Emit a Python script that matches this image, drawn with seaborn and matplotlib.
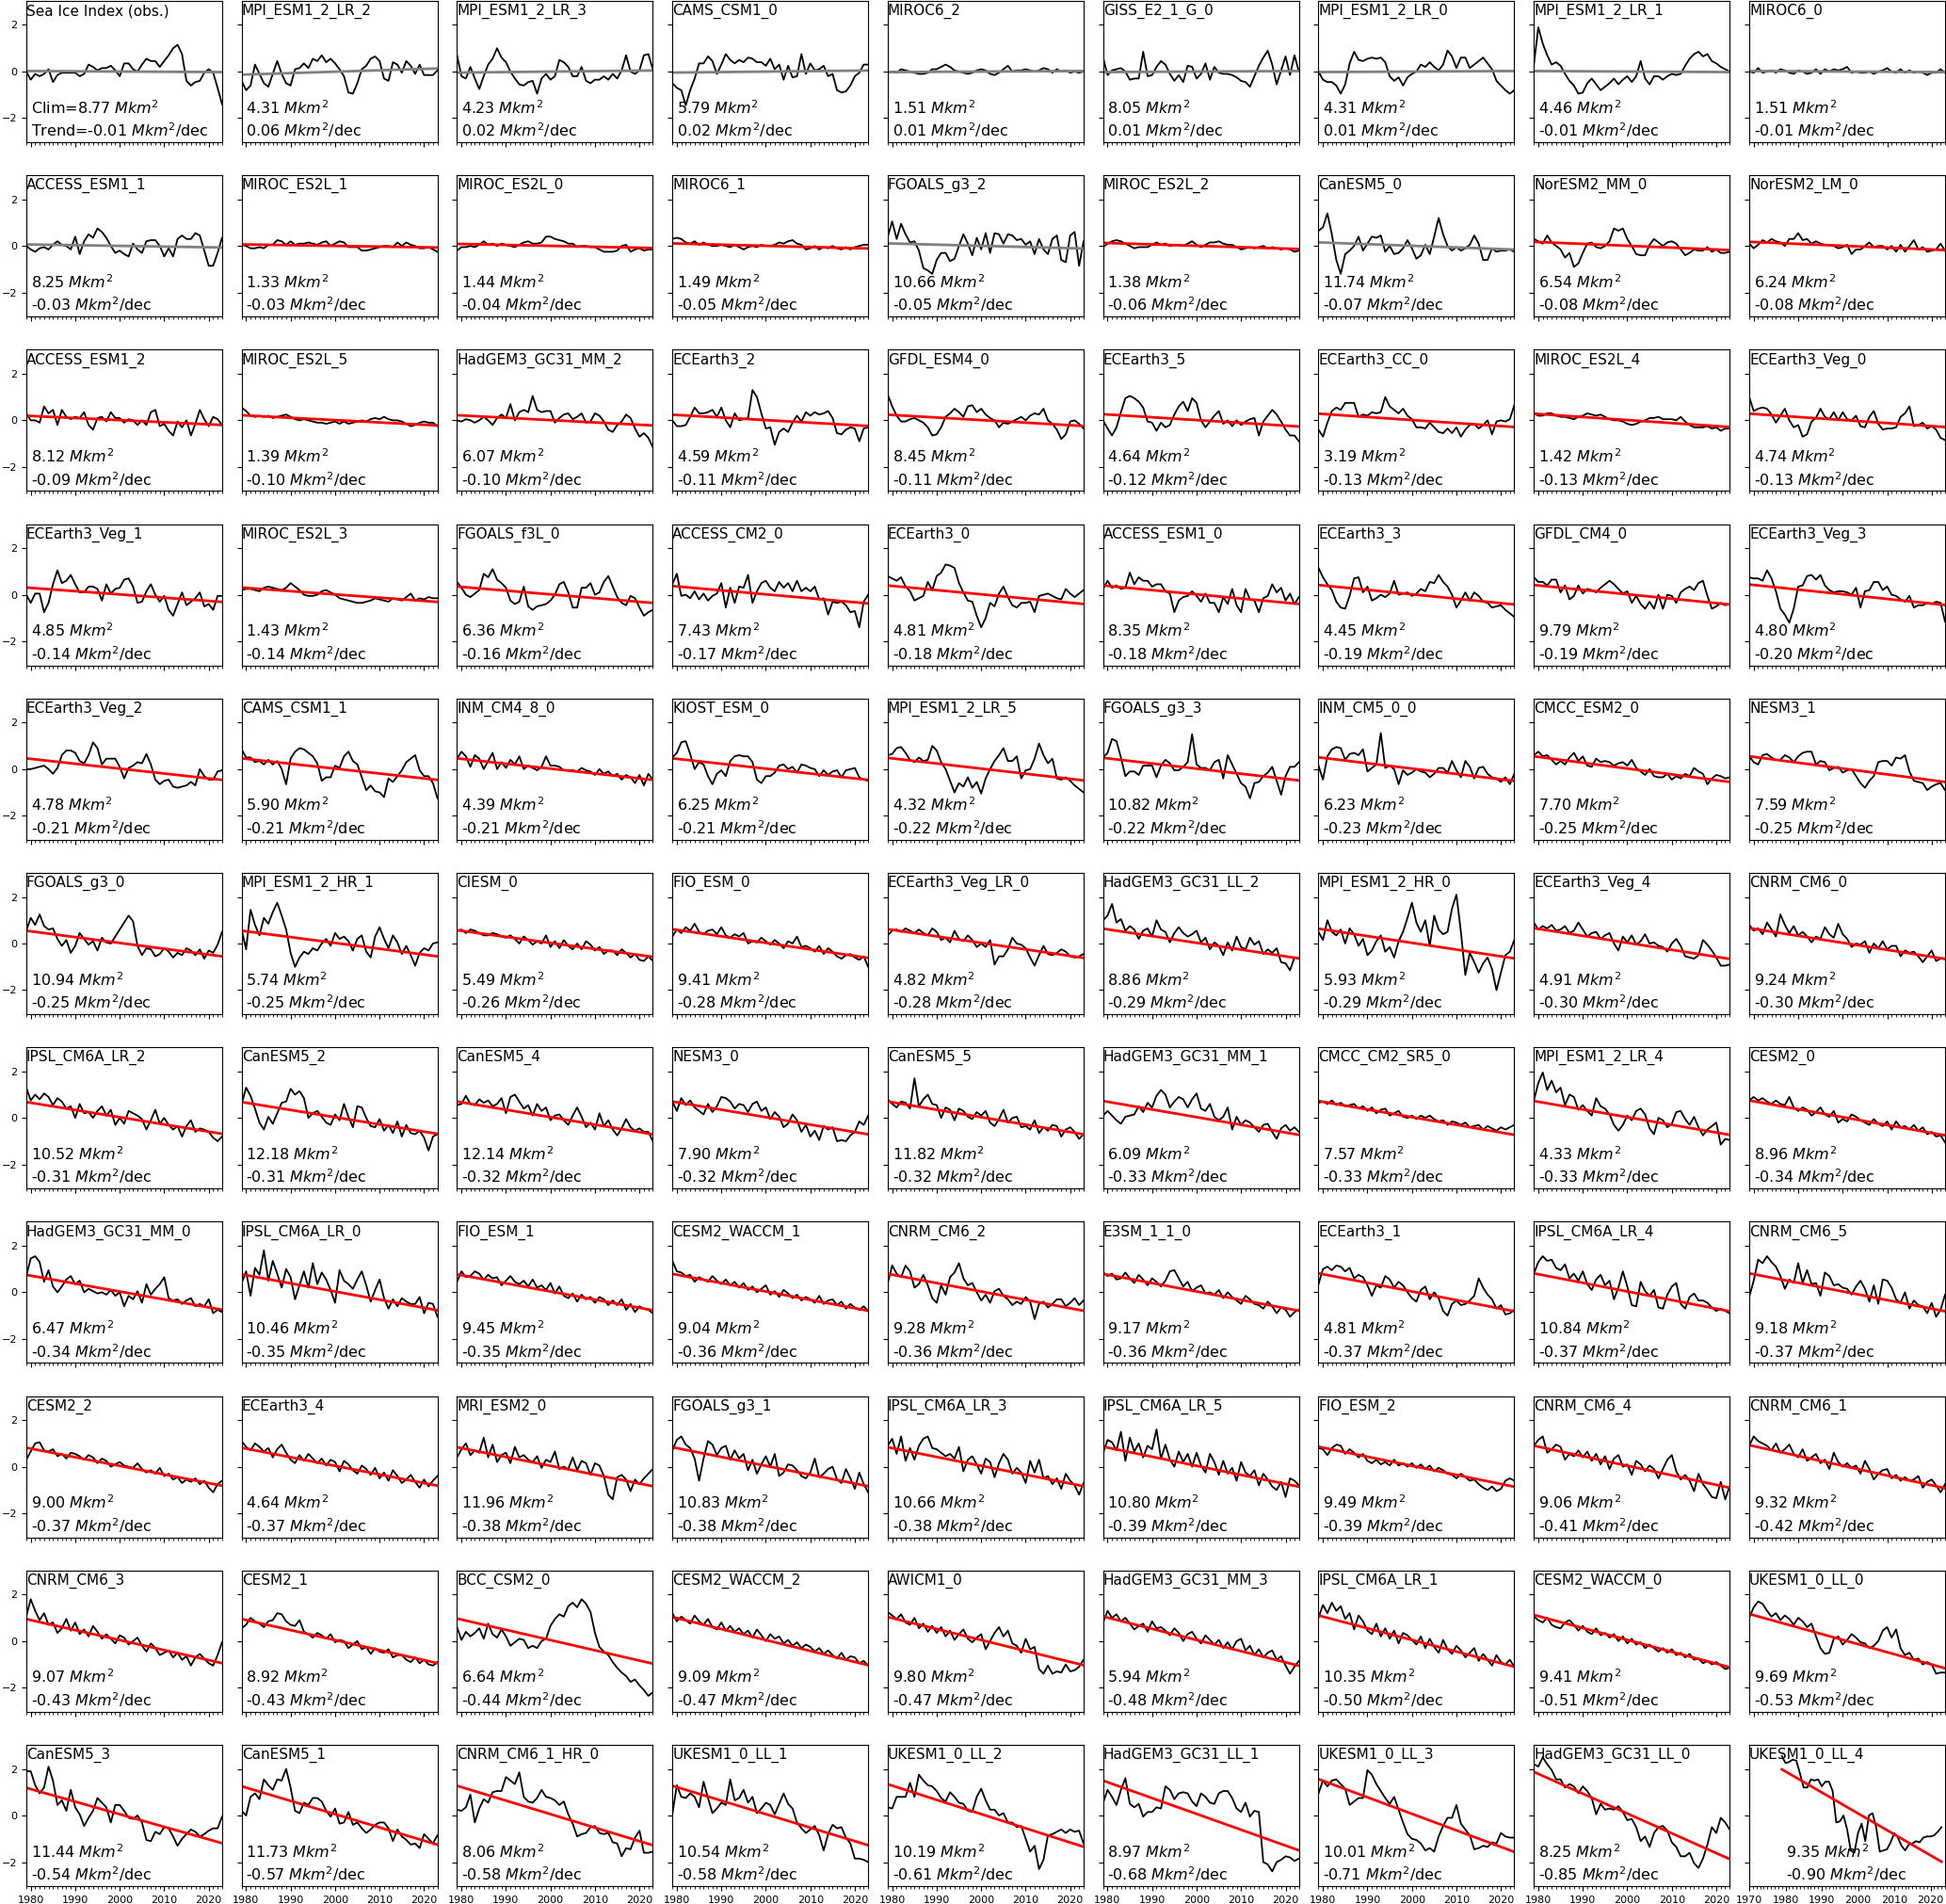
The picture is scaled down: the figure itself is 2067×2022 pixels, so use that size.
import numpy as np
import matplotlib
matplotlib.use("Agg")
import matplotlib.pyplot as plt
import seaborn as sns
from matplotlib.ticker import MultipleLocator

years = list(range(1979, 2024))

models = [
    "Sea Ice Index (obs.)", "MPI_ESM1_2_LR_2", "MPI_ESM1_2_LR_3", "CAMS_CSM1_0", "MIROC6_2", "GISS_E2_1_G_0", "MPI_ESM1_2_LR_0", "MPI_ESM1_2_LR_1", "MIROC6_0",
    "ACCESS_ESM1_1", "MIROC_ES2L_1", "MIROC_ES2L_0", "MIROC6_1", "FGOALS_g3_2", "MIROC_ES2L_2", "CanESM5_0", "NorESM2_MM_0", "NorESM2_LM_0",
    "ACCESS_ESM1_2", "MIROC_ES2L_5", "HadGEM3_GC31_MM_2", "ECEarth3_2", "GFDL_ESM4_0", "ECEarth3_5", "ECEarth3_CC_0", "MIROC_ES2L_4", "ECEarth3_Veg_0",
    "ECEarth3_Veg_1", "MIROC_ES2L_3", "FGOALS_f3L_0", "ACCESS_CM2_0", "ECEarth3_0", "ACCESS_ESM1_0", "ECEarth3_3", "GFDL_CM4_0", "ECEarth3_Veg_3",
    "ECEarth3_Veg_2", "CAMS_CSM1_1", "INM_CM4_8_0", "KIOST_ESM_0", "MPI_ESM1_2_LR_5", "FGOALS_g3_3", "INM_CM5_0_0", "CMCC_ESM2_0", "NESM3_1",
    "FGOALS_g3_0", "MPI_ESM1_2_HR_1", "CIESM_0", "FIO_ESM_0", "ECEarth3_Veg_LR_0", "HadGEM3_GC31_LL_2", "MPI_ESM1_2_HR_0", "ECEarth3_Veg_4", "CNRM_CM6_0",
    "IPSL_CM6A_LR_2", "CanESM5_2", "CanESM5_4", "NESM3_0", "CanESM5_5", "HadGEM3_GC31_MM_1", "CMCC_CM2_SR5_0", "MPI_ESM1_2_LR_4", "CESM2_0",
    "HadGEM3_GC31_MM_0", "IPSL_CM6A_LR_0", "FIO_ESM_1", "CESM2_WACCM_1", "CNRM_CM6_2", "E3SM_1_1_0", "ECEarth3_1", "IPSL_CM6A_LR_4", "CNRM_CM6_5",
    "CESM2_2", "ECEarth3_4", "MRI_ESM2_0", "FGOALS_g3_1", "IPSL_CM6A_LR_3", "IPSL_CM6A_LR_5", "FIO_ESM_2", "CNRM_CM6_4", "CNRM_CM6_1",
    "CNRM_CM6_3", "CESM2_1", "BCC_CSM2_0", "CESM2_WACCM_2", "AWICM1_0", "HadGEM3_GC31_MM_3", "IPSL_CM6A_LR_1", "CESM2_WACCM_0", "UKESM1_0_LL_0",
    "CanESM5_3", "CanESM5_1", "CNRM_CM6_1_HR_0", "UKESM1_0_LL_1", "UKESM1_0_LL_2", "HadGEM3_GC31_LL_1", "UKESM1_0_LL_3", "HadGEM3_GC31_LL_0", "UKESM1_0_LL_4",
]

clim = [
    8.77, 4.31, 4.23, 5.79, 1.51, 8.05, 4.31, 4.46, 1.51,
    8.25, 1.33, 1.44, 1.49, 10.66, 1.38, 11.74, 6.54, 6.24,
    8.12, 1.39, 6.07, 4.59, 8.45, 4.64, 3.19, 1.42, 4.74,
    4.85, 1.43, 6.36, 7.43, 4.81, 8.35, 4.45, 9.79, 4.80,
    4.78, 5.90, 4.39, 6.25, 4.32, 10.82, 6.23, 7.70, 7.59,
    10.94, 5.74, 5.49, 9.41, 4.82, 8.86, 5.93, 4.91, 9.24,
    10.52, 12.18, 12.14, 7.90, 11.82, 6.09, 7.57, 4.33, 8.96,
    6.47, 10.46, 9.45, 9.04, 9.28, 9.17, 4.81, 10.84, 9.18,
    9.00, 4.64, 11.96, 10.83, 10.66, 10.80, 9.49, 9.06, 9.32,
    9.07, 8.92, 6.64, 9.09, 9.80, 5.94, 10.35, 9.41, 9.69,
    11.44, 11.73, 8.06, 10.54, 10.19, 8.97, 10.01, 8.25, 9.35,
]

trend = [
    -0.01, 0.06, 0.02, 0.02, 0.01, 0.01, 0.01, -0.01, -0.01,
    -0.03, -0.03, -0.04, -0.05, -0.05, -0.06, -0.07, -0.08, -0.08,
    -0.09, -0.10, -0.10, -0.11, -0.11, -0.12, -0.13, -0.13, -0.13,
    -0.14, -0.14, -0.16, -0.17, -0.18, -0.18, -0.19, -0.19, -0.20,
    -0.21, -0.21, -0.21, -0.21, -0.22, -0.22, -0.23, -0.25, -0.25,
    -0.25, -0.25, -0.26, -0.28, -0.28, -0.29, -0.29, -0.30, -0.30,
    -0.31, -0.31, -0.32, -0.32, -0.32, -0.33, -0.33, -0.33, -0.34,
    -0.34, -0.35, -0.35, -0.36, -0.36, -0.36, -0.37, -0.37, -0.37,
    -0.37, -0.37, -0.38, -0.38, -0.38, -0.39, -0.39, -0.41, -0.42,
    -0.43, -0.43, -0.44, -0.47, -0.47, -0.48, -0.50, -0.51, -0.53,
    -0.54, -0.57, -0.58, -0.58, -0.61, -0.68, -0.71, -0.85, -0.90,
]

significant = [False] * 9 + [False, True, True, True, False, True, False, True, True] + [True] * 81

anom_row01 = [
    [0.0,-0.35,-0.1,-0.2,-0.1,0.1,-0.45,-0.15,-0.05,-0.05,-0.05,-0.05,-0.2,-0.1,0.3,0.2,0.05,0.15,0.15,0.25,0.05,-0.2,0.35,0.35,0.1,0.0,0.3,0.55,0.45,0.45,0.2,0.45,0.7,1.0,1.15,0.75,-0.4,-0.6,-0.45,-0.4,-0.05,0.1,-0.05,-0.7,-1.4],
    [-0.4,-0.8,-0.6,0.3,-0.1,-0.5,-0.65,-0.1,0.45,-0.1,-0.5,-0.6,0.1,0.15,0.35,0.15,0.55,0.45,0.7,0.4,0.55,0.35,0.1,-0.2,-0.9,-0.95,-0.5,0.1,0.25,0.55,0.65,0.45,-0.3,-0.4,0.4,0.3,-0.05,0.45,0.25,-0.1,0.3,-0.15,-0.15,-0.15,0.05],
    [0.7,-0.2,-0.3,0.2,-0.3,-0.75,-0.2,0.3,0.55,1.0,0.6,0.4,0.0,-0.3,-0.55,-0.6,-0.45,-0.4,-0.95,-0.3,-0.1,-0.35,-0.2,0.5,0.4,0.2,-0.2,-0.2,0.2,-0.4,-0.5,-0.35,-0.35,-0.2,-0.35,-0.1,-0.3,0.05,0.7,0.0,-0.1,0.05,0.7,0.75,0.1],
    [-0.5,-0.7,-0.8,-1.45,-0.8,-0.3,0.35,0.35,0.65,0.45,-0.1,0.3,0.75,0.5,0.35,0.5,0.4,0.6,0.55,0.4,0.4,0.25,0.55,0.1,0.3,-0.35,0.25,-0.25,-0.2,0.75,-0.1,0.35,0.05,0.1,0.25,-0.2,-0.1,-0.8,-0.9,-0.85,-0.6,-0.2,-0.05,0.3,0.3],
    [-0.05,0.0,-0.05,0.1,0.05,0.0,-0.05,-0.1,-0.1,-0.05,0.1,0.1,0.2,0.3,0.2,0.05,0.0,-0.05,-0.1,-0.05,0.05,0.1,0.05,-0.1,-0.15,-0.05,0.1,0.25,0.0,0.05,0.05,0.1,0.05,0.0,0.05,0.15,0.1,-0.05,0.1,0.0,0.05,-0.05,0.0,-0.05,0.0],
    [0.6,-0.15,0.05,0.1,0.15,0.0,-0.35,-0.3,-0.3,0.85,-0.2,-0.15,0.2,0.45,0.3,-0.1,-0.4,-0.15,-0.45,0.25,0.2,-0.3,-0.1,0.35,-0.35,0.2,-0.05,-0.1,-0.1,-0.15,-0.25,-0.4,-0.45,-0.65,-0.2,0.25,0.6,0.9,0.3,-0.55,0.05,0.65,-0.15,0.7,0.0],
    [0.0,-0.35,-0.45,-0.45,-0.6,-0.95,-0.55,0.35,0.85,0.5,0.45,0.55,0.6,0.55,0.6,0.4,-0.2,-0.4,-0.25,-0.6,-0.25,-0.1,0.0,0.3,0.2,0.4,0.2,0.05,0.3,0.9,0.65,0.15,0.6,0.6,0.15,0.3,0.45,0.6,0.35,0.1,-0.4,-0.6,-0.8,-0.95,-0.8],
    [0.3,1.9,1.2,0.7,0.3,0.4,0.25,-0.1,-0.4,-0.6,-0.95,-0.9,-0.5,-0.3,-0.55,-0.8,-0.65,-0.5,-0.3,-0.55,-0.35,-0.2,-0.45,-0.2,0.45,-0.3,-0.55,-0.2,-0.2,-0.35,-0.2,-0.1,-0.15,-0.1,0.25,0.55,0.75,0.85,0.65,0.75,0.45,0.35,0.2,0.1,0.0],
    [0.0,-0.05,0.15,-0.05,0.0,0.05,-0.05,0.1,0.05,-0.05,-0.1,0.05,0.0,-0.1,-0.05,0.1,-0.1,0.1,0.0,0.1,0.05,0.1,0.2,-0.05,0.0,-0.05,-0.05,0.0,-0.1,0.0,0.05,0.15,0.0,-0.05,0.1,-0.05,0.05,-0.05,0.0,-0.05,-0.15,-0.05,-0.05,0.1,-0.05],
]

anom_row02 = [
    [0.0,-0.15,-0.25,-0.1,-0.05,-0.15,0.05,0.2,0.05,0.0,-0.15,0.4,-0.35,0.2,0.5,0.35,0.75,0.6,0.35,0.0,-0.3,-0.2,-0.35,-0.45,0.1,-0.15,-0.3,0.2,0.25,0.25,0.0,-0.45,-0.1,-0.45,0.3,0.45,0.3,0.3,0.55,0.45,-0.2,-0.85,-0.85,-0.3,0.35],
    [0.05,0.0,-0.1,-0.1,-0.05,-0.1,0.05,0.05,0.25,0.2,0.05,0.2,0.05,0.1,0.1,0.15,0.1,0.05,0.15,0.2,0.0,0.1,0.2,0.15,-0.05,-0.05,-0.05,-0.2,-0.2,-0.15,-0.1,-0.05,0.0,0.0,-0.05,0.15,0.0,0.15,0.05,0.0,-0.1,-0.1,-0.05,-0.15,-0.25],
    [-0.2,-0.05,-0.05,0.0,-0.05,0.05,0.2,0.05,0.1,0.0,0.1,0.05,0.0,-0.05,0.05,0.15,0.2,0.1,0.1,0.15,0.4,0.4,0.3,0.25,0.2,0.1,0.1,-0.05,0.0,0.0,-0.05,-0.05,-0.15,-0.25,-0.25,-0.25,-0.2,0.0,0.05,-0.25,-0.15,-0.1,-0.2,-0.15,-0.15],
    [0.3,0.35,0.3,0.15,0.1,0.2,0.05,0.15,0.05,0.0,0.0,0.05,0.0,-0.05,0.05,-0.05,-0.15,-0.05,0.0,-0.05,0.05,0.0,0.0,0.05,0.15,0.1,0.2,0.25,0.1,0.05,-0.15,-0.1,0.0,-0.15,-0.05,-0.1,0.0,-0.1,-0.15,-0.05,-0.15,-0.05,0.0,0.05,0.05],
    [0.4,1.05,0.3,0.95,0.5,0.15,0.2,-0.2,-0.95,-1.05,-1.2,-0.6,-0.3,-0.3,-0.65,-0.55,0.0,0.5,0.1,-0.4,0.35,-0.15,0.55,-0.3,0.55,0.5,0.1,0.5,0.45,0.25,0.3,0.05,0.2,-0.35,0.3,-0.15,-0.35,0.3,0.45,-0.6,-0.7,0.45,0.6,-0.85,0.2],
    [-0.05,0.1,0.2,0.25,0.2,0.1,0.0,-0.1,-0.05,-0.05,-0.05,0.05,0.15,0.05,0.1,0.0,0.05,0.05,0.0,0.1,0.2,0.05,-0.05,0.05,0.15,0.15,0.2,0.1,0.05,0.05,-0.05,-0.15,-0.1,-0.05,-0.1,-0.05,0.0,-0.1,-0.05,-0.1,-0.15,-0.1,-0.15,-0.25,-0.2],
    [0.65,0.8,1.4,0.5,-0.6,-1.2,-0.35,-0.2,0.0,0.4,-0.2,0.1,0.4,0.35,0.45,-0.25,0.0,-0.35,-0.3,-0.1,0.25,-0.1,-0.55,-0.4,0.05,-0.35,0.4,1.2,0.5,0.0,-0.2,-0.05,-0.2,-0.1,0.05,0.45,0.1,-0.6,-0.6,-0.1,-0.25,-0.2,-0.2,-0.15,-0.25],
    [0.3,0.2,0.1,0.45,0.15,0.0,-0.15,-0.5,-0.3,-0.9,-0.75,-0.3,0.1,0.15,-0.05,-0.1,0.0,0.2,0.75,0.65,0.75,0.3,0.0,-0.35,-0.4,-0.4,0.05,0.3,0.15,0.0,0.15,0.2,0.1,-0.15,-0.4,-0.3,-0.15,-0.2,-0.2,-0.05,-0.25,-0.15,-0.3,-0.3,-0.25],
    [0.1,-0.1,0.05,0.25,0.15,0.3,0.2,0.15,0.0,0.3,0.3,0.55,0.25,0.3,0.1,0.2,0.1,0.05,0.05,0.0,-0.1,-0.05,0.05,-0.35,-0.15,-0.15,0.0,0.15,-0.05,0.0,0.0,-0.15,0.0,-0.25,0.05,-0.25,0.0,0.25,-0.15,-0.05,-0.25,-0.2,-0.15,0.1,-0.2],
]

anom_row03 = [
    [0.3,0.0,0.0,-0.1,0.6,0.3,0.45,-0.2,0.45,0.15,0.05,0.15,0.1,0.35,-0.2,-0.4,0.1,0.15,-0.05,0.35,0.1,0.1,-0.1,0.05,0.0,-0.2,0.0,-0.2,0.35,0.45,-0.25,-0.15,-0.45,-0.65,-0.05,-0.3,0.0,-0.65,-0.15,0.45,0.05,-0.25,0.15,0.05,-0.2],
    [0.55,0.4,0.2,0.15,0.2,0.15,0.2,0.1,0.15,0.2,0.25,0.15,0.05,0.0,0.05,0.0,-0.05,-0.1,-0.1,-0.15,-0.1,-0.05,-0.15,-0.05,-0.15,-0.1,-0.05,0.0,-0.05,0.05,0.1,0.05,0.15,0.05,0.0,0.0,-0.05,-0.15,-0.25,-0.2,-0.1,-0.05,-0.1,-0.1,-0.25],
    [0.0,-0.05,0.05,0.0,-0.1,0.0,0.15,0.0,-0.2,0.1,0.25,0.1,0.7,0.0,0.35,0.45,0.35,1.05,0.45,0.35,0.4,0.4,-0.1,0.1,0.25,0.3,0.05,0.15,0.3,-0.1,-0.05,0.3,0.2,-0.05,-0.4,-0.5,-0.2,-0.05,0.25,0.1,-0.35,-0.7,-0.55,-0.75,-1.15],
    [0.0,-0.25,-0.25,-0.2,0.15,0.55,0.3,0.3,0.35,0.45,0.15,0.55,0.0,-0.3,0.3,0.0,0.05,0.1,1.3,1.0,0.3,-0.35,-0.3,-1.05,-0.5,-0.35,-0.5,-0.1,0.2,-0.05,0.35,0.2,0.35,0.25,0.3,0.4,0.1,-0.55,-0.6,-0.4,-0.3,-0.35,-0.9,-0.35,-0.3],
    [1.1,0.6,0.2,-0.05,-0.05,0.05,0.1,0.0,-0.1,-0.3,-0.65,-0.6,-0.3,0.15,0.3,0.5,0.35,0.15,0.6,0.65,0.35,0.5,0.25,0.1,0.0,-0.3,-0.1,-0.15,-0.05,0.05,0.15,0.0,0.2,0.3,0.25,0.5,0.0,-0.15,-0.4,-0.8,-0.6,-0.05,0.0,-0.15,-0.35],
    [0.0,-0.35,-0.65,-0.3,0.35,0.95,1.05,0.95,0.8,0.55,-0.05,-0.1,-0.45,-0.1,-0.3,-0.2,0.25,0.6,0.8,0.4,0.95,0.75,0.0,-0.3,-0.05,0.2,0.4,-0.15,0.0,-0.25,0.0,-0.2,-0.05,0.05,0.1,-0.65,-0.05,0.2,0.45,0.25,-0.05,-0.4,-0.65,-0.65,-0.9],
    [-0.4,-0.7,-0.1,0.4,0.55,0.45,0.75,0.75,0.75,0.15,0.25,0.2,0.35,0.3,0.35,1.0,0.6,0.45,0.3,0.5,0.2,0.05,-0.3,-0.3,-0.35,-0.1,-0.3,-0.5,-0.55,-0.35,-0.55,-0.3,-0.7,-0.4,-0.2,-0.15,-0.35,-0.2,0.0,-0.6,-0.05,0.0,-0.05,0.05,0.65],
    [0.3,0.2,0.2,0.3,0.3,0.2,0.15,0.15,0.1,0.05,0.15,0.2,0.3,0.25,0.2,0.25,0.15,0.05,0.0,0.0,-0.05,-0.15,-0.2,-0.15,-0.05,0.0,0.1,0.1,0.15,0.05,0.05,0.05,0.0,0.15,-0.05,-0.2,-0.3,-0.3,-0.3,-0.25,-0.35,-0.3,-0.45,-0.35,-0.35],
    [1.0,0.4,0.5,0.55,0.5,0.25,-0.1,0.2,0.5,0.0,-0.3,-0.2,-0.7,-0.6,-0.05,0.1,0.5,0.15,0.05,0.35,0.0,0.35,0.05,0.0,0.2,-0.25,-0.3,0.15,0.4,-0.15,-0.4,-0.35,-0.35,-0.3,0.15,0.3,0.6,-0.25,-0.2,-0.1,-0.35,-0.25,-0.4,-0.75,-0.85],
]

anom_row04 = [
    [0.0,-0.35,0.05,0.05,-0.75,-0.35,0.45,1.05,0.5,0.6,0.85,0.45,0.1,0.1,0.35,0.35,0.25,-0.25,0.45,0.05,0.25,0.3,0.65,0.7,0.35,-0.35,-0.3,0.15,0.45,0.0,-0.3,-0.05,-0.65,-0.9,-0.4,0.1,-0.45,-0.3,-0.15,0.1,-0.5,-0.4,-0.65,-0.05,-0.05],
    [0.2,0.25,0.25,0.2,0.15,0.3,0.35,0.3,0.25,0.2,0.3,0.5,0.35,0.2,0.0,-0.05,-0.05,0.0,0.15,0.2,0.1,0.0,-0.15,-0.2,-0.25,-0.3,-0.35,-0.35,-0.3,-0.25,-0.15,-0.2,-0.25,-0.3,-0.15,-0.2,-0.25,-0.1,0.05,-0.25,-0.15,-0.2,-0.1,-0.15,-0.15],
    [0.55,0.3,0.0,-0.1,0.05,0.2,0.9,0.75,1.1,0.65,0.5,0.3,-0.25,-0.4,-0.3,0.35,-0.5,-0.65,-0.5,-0.45,-0.4,-0.25,0.0,0.45,0.55,0.1,-0.55,-0.55,0.3,0.3,0.5,0.0,0.1,0.55,0.8,0.35,-0.1,-0.35,-0.45,-0.05,-0.15,-0.55,-0.9,-0.75,-0.65],
    [0.45,0.9,-0.05,0.0,-0.15,0.15,-0.2,0.05,-0.25,-0.05,0.05,0.5,-0.55,0.3,-0.35,0.35,0.3,0.85,-0.35,0.15,0.5,0.6,0.3,0.15,0.55,0.3,0.5,0.15,0.6,0.15,0.3,0.15,0.35,-0.2,-0.15,-0.85,-0.3,-0.35,-0.3,-0.45,-0.75,-0.7,-1.4,-0.3,0.0],
    [0.8,0.7,0.6,0.75,0.35,0.15,-0.25,-0.15,-0.05,0.55,0.2,0.8,0.95,1.3,1.25,1.15,0.5,0.1,-0.25,-0.3,-0.9,-1.4,-1.0,-0.35,-0.5,0.05,0.35,-0.1,-0.45,-0.55,-0.35,-0.35,-0.3,-0.75,-0.05,0.0,0.05,-0.05,-0.15,-0.2,0.25,0.05,-0.1,0.05,0.2],
    [0.25,0.6,0.3,0.4,0.25,0.3,0.95,0.45,0.75,0.6,0.6,0.35,0.45,0.45,0.15,0.05,-0.75,-0.25,-0.1,-0.05,0.15,-0.05,-0.3,0.05,-0.35,-0.35,-0.75,-0.1,-0.4,0.25,-0.45,-0.75,0.25,-0.2,-0.25,-0.75,-0.15,-0.05,0.45,0.1,0.3,-0.25,0.05,-0.4,-0.1],
    [1.15,0.75,0.45,0.2,-0.3,-0.55,-0.6,-0.05,0.7,0.75,0.1,0.35,-0.25,-0.15,0.0,-0.1,0.05,0.6,0.0,0.05,0.1,-0.05,0.05,0.25,0.15,0.55,0.5,0.85,0.55,0.35,0.0,-0.55,-0.25,0.1,-0.25,0.1,-0.05,-0.3,-0.35,-0.55,-0.5,-0.45,-0.65,-0.8,-0.95],
    [0.75,0.55,0.55,0.4,0.65,0.65,0.1,0.4,-0.2,-0.05,0.4,0.05,0.25,0.2,0.1,0.3,0.45,0.6,0.45,0.25,0.05,0.15,-0.35,-0.05,-0.4,-0.6,-0.3,-0.6,0.0,-0.6,0.0,-0.05,-0.35,0.1,0.25,0.35,0.2,0.5,0.6,-0.05,-0.6,-0.5,-0.35,-0.45,-0.4],
    [0.75,0.7,0.7,0.6,1.05,0.7,0.15,-0.6,-0.85,-1.2,-0.6,0.35,0.4,0.8,0.85,0.65,0.85,0.4,0.2,0.1,0.15,0.15,0.1,0.0,0.3,-0.55,0.15,0.2,0.55,0.55,0.2,0.35,0.0,-0.05,-0.2,-0.3,-0.05,-0.55,-0.45,-0.45,-0.35,-0.4,-0.3,-0.35,-1.15],
]

anom_row05 = [
    [0.0,0.0,0.05,0.1,0.15,0.0,-0.2,0.05,0.6,0.8,0.8,0.7,0.35,0.25,0.6,1.15,0.9,0.2,0.45,0.45,0.45,0.1,-0.4,0.05,0.15,0.3,0.25,0.65,0.2,-0.45,-0.65,-0.5,-0.45,-0.75,-0.8,-0.75,-0.7,-0.55,-0.7,0.0,-0.3,-0.45,-0.45,-0.1,-0.05],
    [0.85,0.5,0.5,0.3,0.35,0.2,0.4,0.2,0.35,0.0,-0.65,0.45,0.75,0.9,0.85,0.7,0.55,0.25,-0.5,-0.35,-0.35,0.15,0.05,0.55,0.75,0.35,0.2,-0.35,-0.9,-0.7,-0.95,-1.0,-1.2,-0.4,-0.55,-0.3,-0.05,0.3,0.45,0.6,-0.05,-0.3,-0.3,-0.6,-1.25],
    [0.45,0.75,0.55,0.1,0.6,0.45,0.0,0.35,0.7,0.0,0.3,0.05,0.4,0.2,0.55,0.0,0.15,0.05,-0.05,0.1,0.55,0.15,0.15,0.1,-0.05,-0.05,-0.05,-0.1,0.05,-0.05,-0.1,-0.25,0.0,-0.2,-0.1,-0.3,-0.2,-0.45,-0.25,-0.35,-0.6,-0.25,-0.7,-0.2,-0.45],
    [0.5,0.7,1.15,1.2,0.65,0.0,0.3,0.2,-0.3,-0.65,-0.2,-0.05,-0.3,0.35,0.55,0.6,0.55,0.55,0.3,-0.45,-0.6,-0.3,-0.3,-0.15,0.15,0.2,0.0,0.1,-0.15,0.2,0.15,0.05,0.0,-0.3,-0.05,-0.25,-0.1,-0.05,-0.35,-0.05,0.0,0.05,-0.35,-0.45,-0.5],
    [0.6,0.65,0.9,0.95,0.7,0.4,0.3,0.5,0.35,0.4,1.0,0.8,0.3,0.0,-0.5,-1.0,-0.6,-0.75,-0.35,-0.8,-0.55,-1.05,-0.4,0.0,0.35,0.6,0.9,0.35,0.35,0.55,-0.4,-0.05,0.0,0.45,1.1,0.6,0.25,0.45,-0.4,-0.45,-0.35,-0.5,-0.7,-0.85,-1.0],
    [0.5,0.7,1.3,1.2,0.5,-0.3,-0.1,-0.1,-0.25,0.15,0.15,0.15,-0.35,0.15,0.4,0.25,-0.05,-0.05,0.1,0.3,1.5,0.2,0.05,0.05,-0.05,0.3,0.4,-0.4,0.6,0.2,-0.2,-0.6,-0.75,-1.25,-0.6,-0.55,-0.3,-0.15,0.1,-0.5,-1.1,-0.3,0.1,0.1,0.3],
    [0.15,-0.45,0.55,0.85,0.95,0.9,0.4,0.65,0.7,0.6,0.85,-0.1,0.05,0.2,1.55,0.05,0.15,0.0,-0.65,-0.05,-0.25,-0.15,0.0,-0.1,-0.15,-0.35,-0.2,0.05,0.05,-0.15,0.35,-0.05,-0.35,0.35,0.1,-0.4,0.05,0.1,-0.2,-0.35,-0.4,-0.55,-0.35,-0.65,-0.2],
    [0.6,0.75,0.55,0.6,0.4,0.2,0.35,0.2,0.5,0.7,0.35,0.55,0.15,0.1,0.45,0.3,0.35,0.3,0.15,0.25,0.3,0.15,0.4,0.05,-0.1,-0.25,0.0,-0.3,-0.35,-0.35,-0.2,-0.45,-0.3,-0.4,-0.2,-0.3,0.05,-0.1,-0.2,-0.65,-0.4,-0.25,-0.3,-0.4,-0.35],
    [0.55,0.3,0.2,0.6,0.65,0.5,0.4,0.4,0.6,0.5,0.3,0.55,0.7,0.75,0.75,0.2,0.35,0.3,-0.05,0.05,0.1,-0.15,-0.05,0.0,-0.3,-0.6,-0.8,-0.5,-0.3,0.3,0.35,0.35,0.15,0.5,0.45,0.6,-0.1,-0.5,-0.55,-0.6,-0.9,-0.75,-0.65,-0.6,-0.9],
]

anom_row06 = [
    [0.55,1.1,0.8,1.25,0.75,0.6,0.65,0.2,-0.1,0.15,-0.4,-0.1,0.45,0.2,-0.05,0.1,-0.3,0.25,0.05,0.0,0.3,0.6,0.9,1.2,0.95,-0.1,-0.5,-0.2,-0.25,-0.55,-0.45,-0.2,-0.35,-0.6,-0.4,-0.5,-0.2,-0.3,-0.5,-0.25,-0.65,-0.3,-0.4,-0.05,0.5],
    [0.6,-0.25,1.45,0.8,0.35,1.1,0.85,1.35,1.75,1.2,0.6,-0.4,-1.0,-0.6,-0.35,-0.45,-0.2,-0.3,0.0,0.2,-0.1,0.45,0.2,0.3,0.1,-0.3,0.2,0.35,-0.35,-0.6,0.3,0.7,0.2,-0.2,0.35,0.05,-0.45,-0.1,-0.5,-0.95,-0.4,-0.2,-0.3,0.0,0.05],
    [0.55,0.6,0.45,0.6,0.55,0.45,0.35,0.35,0.45,0.4,0.3,0.25,0.35,0.2,0.0,0.3,0.15,-0.05,0.1,0.0,0.35,-0.15,0.1,-0.2,0.15,-0.1,-0.25,0.0,-0.25,0.1,-0.05,-0.3,-0.15,-0.45,-0.3,-0.3,-0.5,-0.25,-0.4,-0.6,-0.45,-0.7,-0.75,-0.55,-0.75],
    [0.3,0.6,0.45,0.7,0.55,0.85,0.5,0.4,0.55,0.6,0.4,0.7,0.35,0.25,0.4,0.3,0.45,0.0,0.1,0.05,0.25,0.1,-0.05,0.15,0.0,-0.2,0.1,0.0,0.3,-0.15,-0.1,-0.2,-0.35,-0.1,-0.45,-0.2,-0.35,-0.55,-0.65,-0.5,-0.45,-0.6,-0.7,-0.55,-1.0],
    [0.35,0.55,0.6,0.5,0.65,0.55,0.45,0.6,0.45,0.35,0.65,0.5,0.15,0.25,0.05,0.55,0.2,0.1,0.35,0.15,-0.15,0.0,-0.15,0.15,-0.9,-0.55,-0.55,-0.25,0.25,0.0,-0.05,-0.2,-0.6,-0.95,-0.5,-0.1,-0.45,-0.5,-0.4,-0.25,-0.35,-0.55,-0.6,-0.55,-0.45],
    [1.0,1.2,1.7,0.9,1.05,0.55,0.75,0.6,0.2,0.55,0.65,0.3,1.0,0.6,0.5,0.05,0.45,0.7,0.45,0.3,0.4,0.55,0.05,0.25,-0.25,0.05,-0.1,-0.5,0.05,-0.3,0.3,-0.15,-0.25,0.25,-0.05,0.1,-0.45,-0.25,-0.4,-0.2,-0.8,-0.85,-1.15,-0.6,-0.6],
    [0.5,0.15,1.0,0.5,0.35,0.6,0.0,0.65,0.4,-0.1,0.2,-0.5,-0.3,0.1,0.35,-0.35,-0.15,-0.6,0.1,0.5,1.1,1.75,0.9,0.5,1.0,-0.1,1.2,0.6,0.4,0.5,1.5,2.1,0.5,-1.35,-0.4,-0.8,-1.25,-0.85,-0.6,-1.1,-2.0,-1.25,-0.5,-0.35,0.15],
    [0.9,0.6,0.75,0.65,0.8,0.55,0.6,0.75,0.45,0.55,0.9,0.6,0.3,0.45,0.5,0.2,0.35,0.45,0.0,-0.3,0.3,0.05,0.35,-0.05,0.1,0.4,0.0,0.05,-0.1,-0.15,-0.35,0.0,0.2,-0.1,-0.55,-0.6,-0.65,-0.5,0.15,-0.05,-0.3,-0.6,-0.95,-0.95,-0.9],
    [0.8,0.55,0.65,0.4,0.9,0.6,0.3,1.25,0.8,0.45,0.75,0.35,0.5,0.3,0.05,0.3,0.2,0.7,0.4,0.25,0.85,0.4,0.2,-0.15,0.0,-0.05,0.1,-0.4,0.0,-0.2,0.1,-0.25,-0.1,-0.1,-0.55,-0.3,-0.4,-0.35,-0.55,-0.8,-0.55,-0.3,-0.75,-0.65,-0.65],
]

anom_row07 = [
    [1.3,0.75,1.0,0.8,1.05,0.9,0.55,0.85,0.7,0.4,0.5,0.0,0.6,0.2,0.25,0.0,0.3,0.5,0.1,0.35,-0.3,0.0,-0.25,0.3,0.2,0.1,-0.05,-0.5,-0.1,0.35,-0.25,0.0,-0.3,-0.5,-0.35,-0.8,-0.35,-0.1,-0.6,-0.45,-0.5,-0.6,-0.85,-1.0,-0.8],
    [0.6,1.3,0.95,0.4,-0.2,-0.5,0.05,-0.25,0.2,0.65,0.7,1.25,1.0,1.15,0.85,0.0,0.2,0.3,0.05,-0.2,-0.3,0.15,-0.1,0.6,0.05,-0.4,0.5,0.45,0.0,-0.35,-0.4,-0.05,-0.55,-0.3,-0.65,-0.15,-0.8,-0.3,-0.65,-0.7,-0.55,-0.85,-1.4,-0.8,-0.7],
    [0.55,0.6,0.95,0.6,0.55,0.8,0.65,0.75,0.5,0.6,0.85,0.2,0.9,1.0,0.7,0.4,0.55,0.1,0.6,0.3,0.45,-0.1,0.1,0.15,-0.1,-0.3,0.1,0.45,0.05,-0.4,-0.2,-0.5,0.2,-0.35,-0.1,-0.5,-0.75,-0.45,-0.05,-0.4,-0.55,-0.45,-0.6,-0.6,-1.0],
    [0.7,0.3,0.85,0.55,0.75,0.45,0.3,0.15,0.6,0.25,0.5,0.9,0.85,0.7,0.4,0.6,0.55,0.25,0.6,0.7,0.3,0.45,-0.05,0.25,0.05,-0.4,-0.25,0.15,-0.1,-0.6,-0.3,-0.8,-0.55,-0.95,-0.35,-0.5,-0.4,-1.0,-0.95,-1.0,-0.75,-0.6,-0.15,-0.3,0.1],
    [0.8,0.6,0.45,0.7,0.65,0.4,1.7,0.5,0.8,1.0,0.6,0.55,0.0,0.45,0.35,-0.1,0.4,0.3,0.05,-0.05,0.25,0.1,0.3,-0.2,-0.35,-0.05,0.35,-0.2,0.0,0.05,-0.4,-0.35,-0.5,-0.1,-0.65,-0.4,-0.55,-0.3,-0.35,-0.8,-0.5,-0.4,-0.6,-0.9,-0.7],
    [0.1,0.3,0.1,-0.1,-0.25,0.05,0.1,0.15,0.5,0.25,0.65,0.45,0.95,1.2,1.0,0.45,0.7,0.9,0.8,0.45,0.8,1.05,0.4,0.3,0.6,0.05,-0.1,0.05,0.45,-0.5,0.05,-0.3,-0.1,-0.2,-0.4,-0.6,-0.3,-0.25,-0.6,-0.9,-0.45,-0.3,-0.55,-0.4,-0.6],
    [0.65,0.7,0.6,0.75,0.55,0.65,0.5,0.55,0.6,0.4,0.5,0.3,0.45,0.2,0.35,0.4,0.1,0.2,0.3,0.05,0.0,0.1,-0.05,0.1,0.0,0.1,-0.05,-0.15,-0.1,-0.3,-0.15,-0.2,-0.3,-0.2,-0.4,-0.35,-0.3,-0.5,-0.35,-0.45,-0.55,-0.4,-0.5,-0.4,-0.3],
    [0.75,1.5,1.95,1.2,1.6,1.1,1.3,0.55,1.0,0.9,0.35,0.55,0.3,0.1,0.85,0.5,0.4,0.15,-0.3,-0.55,-0.3,0.1,-0.1,0.3,0.4,0.15,-0.45,-0.7,0.0,-0.1,-0.4,-0.25,0.25,0.3,-0.05,-0.3,0.05,-0.4,-0.75,-0.5,-0.35,-0.2,-1.15,-0.9,-0.95],
    [0.75,0.9,0.75,0.85,0.7,0.6,0.75,0.6,0.55,0.9,0.45,0.3,0.45,0.35,0.1,0.25,0.45,0.15,0.05,0.3,-0.2,-0.05,-0.15,0.15,0.05,-0.1,-0.2,-0.3,-0.05,-0.25,-0.35,-0.15,-0.5,-0.15,-0.4,-0.35,-0.5,-0.3,-0.55,-0.4,-0.7,-0.6,-0.8,-0.75,-1.05],
]

anom_row08 = [
    [0.7,1.45,1.55,1.3,0.45,0.95,0.25,0.0,0.25,0.55,0.7,0.35,0.5,0.0,0.15,0.05,-0.05,0.0,-0.1,0.1,-0.15,0.0,-0.6,-0.15,-0.3,0.05,-0.45,0.35,-0.1,0.15,0.35,0.65,-0.25,-0.35,-0.3,-0.5,-0.35,-0.25,-0.6,-0.5,-0.6,-0.3,-0.9,-0.75,-0.85],
    [0.4,0.9,-0.15,1.05,0.75,1.8,0.5,1.35,0.8,0.2,1.0,0.65,-0.3,0.3,0.9,0.2,1.25,0.35,0.85,0.55,0.1,-0.45,0.95,0.5,0.35,0.15,0.55,0.9,0.3,-0.4,0.1,0.55,-0.25,-0.7,-0.3,-0.6,-0.25,-0.4,-0.5,-0.5,-0.2,-0.9,-0.45,-0.5,-1.05],
    [0.45,0.9,0.65,0.7,0.9,0.8,0.55,0.75,0.6,0.65,0.3,0.5,0.7,0.45,0.35,0.5,0.25,0.55,0.2,0.3,0.1,0.4,-0.05,0.25,-0.15,-0.25,-0.05,-0.4,-0.1,-0.3,-0.2,-0.45,-0.2,-0.3,-0.55,-0.35,-0.55,-0.3,-0.75,-0.5,-0.85,-0.6,-0.7,-0.75,-0.9],
    [1.35,0.9,0.85,0.7,0.75,0.45,0.65,0.55,0.45,0.7,0.5,0.35,0.55,0.3,0.45,0.2,0.4,0.1,0.25,0.0,0.15,0.3,-0.1,0.05,-0.2,0.1,-0.05,-0.25,-0.1,-0.35,-0.2,-0.3,-0.45,-0.15,-0.5,-0.35,-0.3,-0.55,-0.4,-0.7,-0.5,-0.65,-0.75,-0.6,-0.8],
    [0.4,1.15,0.8,0.65,1.15,0.9,0.2,0.35,0.75,0.3,-0.25,-0.45,0.3,-0.1,0.65,0.85,1.25,0.6,0.3,0.4,0.0,-0.35,-0.1,-0.45,0.05,0.15,-0.15,-0.3,-0.55,-0.4,-0.5,-0.2,-0.4,-1.15,-0.5,-0.4,-0.65,-0.5,-0.3,-0.3,-0.6,-0.45,-0.25,-0.55,-0.35],
    [0.85,0.7,0.8,0.55,0.6,0.85,0.6,0.4,0.75,0.55,0.3,0.6,0.45,0.25,0.5,0.9,0.95,0.6,0.25,0.45,0.05,0.2,0.3,-0.05,0.0,-0.1,0.1,-0.25,0.0,-0.2,-0.35,-0.5,-0.15,-0.3,-0.5,-0.55,-0.7,-0.4,-0.6,-0.9,-0.65,-0.75,-1.05,-0.85,-0.75],
    [0.35,1.0,1.1,0.95,1.15,1.1,0.9,1.05,0.6,0.75,0.65,0.3,-0.15,0.3,0.2,0.7,0.55,0.2,0.45,0.3,0.0,-0.25,-0.4,0.1,0.25,-0.3,0.0,-0.25,-0.8,-1.0,-0.5,-0.35,-0.55,-0.5,-0.35,-0.15,0.6,0.2,-0.1,-0.3,-0.7,-0.55,-0.95,-0.9,-0.75],
    [0.8,1.3,1.55,1.35,1.4,1.05,0.95,1.2,0.6,0.8,0.5,0.9,0.35,0.1,0.55,0.75,0.3,0.5,-0.3,0.2,0.9,0.25,-0.55,-0.6,0.45,0.05,-0.15,0.1,-0.65,-0.7,-0.1,0.25,0.4,-0.5,-0.7,-0.2,-0.05,-0.35,-0.35,-0.45,-0.65,-0.8,-0.7,-0.8,-0.9],
    [-0.2,0.5,1.4,1.25,1.55,1.3,1.1,0.7,0.15,0.55,0.4,1.25,0.4,0.95,0.35,0.4,-0.15,0.85,0.7,0.3,0.35,0.2,0.15,-0.1,0.25,0.5,0.15,-0.4,0.3,-0.5,0.55,0.5,0.2,-0.3,-0.45,0.0,-0.7,-0.35,-0.55,-0.6,-0.9,-0.45,-1.05,-0.75,-0.1],
]

anom_row09 = [
    [0.3,0.65,1.0,1.05,0.7,0.65,0.75,0.45,0.55,0.35,0.6,0.55,0.45,0.3,0.5,0.4,0.15,0.35,0.25,0.0,0.1,0.2,0.05,0.0,-0.05,0.15,-0.1,-0.25,-0.15,-0.3,-0.05,-0.4,-0.3,-0.55,-0.45,-0.7,-0.55,-0.65,-0.5,-0.75,-0.6,-0.9,-1.1,-0.75,-0.6],
    [1.1,0.85,0.7,1.0,0.85,0.65,0.8,0.4,0.75,0.95,0.6,0.3,0.15,0.5,0.25,0.55,0.35,0.15,0.35,0.05,0.3,0.2,-0.2,0.25,0.1,-0.15,-0.3,0.05,-0.1,-0.35,-0.05,-0.5,-0.25,-0.6,-0.15,-0.4,-0.7,-0.55,-0.35,-0.65,-0.9,-0.55,-0.85,-0.6,-0.4],
    [0.4,0.75,1.0,0.5,0.7,0.6,1.25,0.4,0.95,0.2,0.5,0.6,0.15,0.85,0.4,0.5,0.3,0.2,0.45,-0.05,0.3,0.2,0.65,-0.1,0.0,-0.1,0.4,-0.15,0.25,0.15,-0.35,0.15,0.05,-0.4,-1.2,-1.4,-0.45,-0.35,-0.55,-1.05,-0.55,-0.75,-0.5,-0.3,-0.1],
    [0.7,1.15,1.3,0.95,0.8,0.35,-0.6,0.35,1.1,0.95,0.5,0.8,0.9,0.3,0.7,0.35,0.55,-0.15,0.3,-0.3,0.1,0.45,0.0,0.55,-0.4,-0.25,0.1,0.05,-0.15,-0.4,-0.5,-0.25,0.35,-0.45,-0.3,-0.1,0.0,-0.55,-0.7,-0.1,-0.5,-0.95,-0.25,-0.75,-1.1],
    [0.9,1.2,0.55,1.3,0.25,0.8,0.3,0.9,1.2,1.3,0.8,0.75,0.6,0.45,0.55,0.35,0.85,-0.2,0.3,0.45,0.1,-0.3,0.35,0.2,-0.45,0.15,0.55,0.3,-0.3,-0.05,-0.25,-0.7,0.25,-0.25,0.3,-0.5,-0.4,-0.75,-0.5,-0.95,-0.3,-0.6,-0.8,-1.2,-0.7],
    [0.6,1.15,1.05,0.7,1.5,0.25,1.25,0.65,1.0,0.4,0.9,0.75,1.6,0.35,0.95,0.3,0.0,0.65,0.2,0.55,0.0,0.6,0.05,-0.25,0.55,0.2,-0.35,0.25,-0.3,-0.05,-0.6,0.2,-0.25,-0.4,-0.15,-0.8,-0.3,-0.55,-0.85,-1.0,-0.65,-1.3,-0.5,-0.6,-0.8],
    [0.8,0.75,0.5,0.8,0.95,0.9,0.55,0.75,0.6,0.4,0.55,0.25,0.15,0.3,0.1,0.2,0.05,0.3,0.05,0.15,0.0,0.15,-0.05,0.1,-0.1,0.05,-0.2,-0.05,-0.15,-0.3,-0.35,-0.5,-0.3,-0.45,-0.6,-0.55,-0.75,-0.9,-1.0,-0.85,-1.05,-0.95,-0.6,-0.5,-0.6],
    [0.9,1.15,1.3,0.6,0.75,0.95,0.85,0.3,0.55,0.45,0.7,0.4,0.65,0.25,0.55,0.1,0.45,-0.1,0.35,0.5,0.0,0.1,-0.35,0.25,0.1,-0.2,0.05,-0.1,-0.5,-0.1,0.3,0.5,-0.2,-0.55,-0.35,-0.6,-1.05,-0.3,-0.75,-1.0,-1.3,-1.35,-0.65,-1.4,-0.85],
    [0.9,1.3,1.1,1.0,0.9,0.7,1.0,0.6,0.75,0.95,0.55,0.4,0.75,0.25,0.4,0.55,0.15,0.3,-0.1,0.6,0.2,0.0,0.15,-0.05,0.05,-0.3,0.25,-0.1,-0.55,-0.3,-0.15,-0.1,-0.5,-0.35,-0.6,-0.45,-0.6,-0.55,-0.4,-0.9,-0.65,-0.55,-0.8,-1.1,-0.75],
]

anom_row10 = [
    [1.05,1.8,1.3,0.9,1.2,0.7,0.8,0.35,0.55,0.95,0.45,0.8,0.3,0.5,0.2,0.65,0.4,0.1,0.3,0.1,-0.1,0.25,0.15,-0.15,0.0,0.15,-0.2,-0.45,-0.1,-0.3,-0.6,-0.5,-0.4,-0.7,-0.5,-0.8,-0.65,-1.05,-0.7,-0.55,-0.75,-0.95,-1.05,-0.6,-0.05],
    [0.55,0.7,1.0,0.85,0.75,0.6,0.85,0.9,1.2,1.15,0.85,0.7,0.65,0.9,0.4,0.3,0.15,0.35,0.25,0.1,0.3,-0.05,0.05,0.0,-0.3,-0.15,0.0,-0.35,-0.25,-0.55,-0.3,-0.45,-0.5,-0.35,-0.7,-0.6,-0.6,-0.8,-0.9,-0.7,-0.95,-0.8,-1.0,-1.05,-0.9],
    [0.6,0.05,0.4,0.2,0.35,0.55,0.1,0.75,0.3,0.15,0.5,0.2,-0.2,-0.05,0.1,0.05,-0.3,-0.2,-0.3,0.0,0.1,0.65,0.95,1.15,1.05,1.5,1.65,1.45,1.8,1.6,1.25,0.35,-0.25,-0.45,-0.6,-0.9,-1.15,-1.35,-1.5,-1.75,-1.65,-1.9,-2.1,-2.35,-2.2],
    [1.2,0.85,1.05,0.9,0.75,1.1,0.85,0.7,0.95,0.6,0.5,0.8,0.45,0.65,0.4,0.55,0.3,0.45,0.15,0.5,0.25,0.0,0.3,0.1,0.2,-0.1,0.05,-0.2,-0.05,-0.3,-0.15,-0.25,-0.45,-0.3,-0.55,-0.4,-0.6,-0.75,-0.5,-0.8,-0.65,-0.7,-0.95,-0.85,-1.05],
    [1.25,1.1,0.95,1.15,0.8,0.7,1.0,0.55,0.75,0.4,0.65,0.35,0.6,0.2,0.45,0.05,0.3,0.5,0.1,-0.05,0.15,0.3,-0.35,0.0,0.35,0.6,0.2,0.45,-0.1,-0.2,-0.5,0.1,-0.35,-0.25,-1.2,-1.4,-1.05,-1.4,-1.3,-1.35,-1.0,-1.3,-1.25,-1.1,-0.8],
    [0.8,1.3,1.0,1.15,0.85,1.0,0.75,0.5,0.65,0.75,0.4,0.85,0.55,0.6,0.45,0.25,0.55,0.35,0.0,0.3,0.4,0.1,-0.1,0.25,0.05,-0.15,0.05,-0.3,-0.05,-0.35,0.0,0.1,-0.4,-0.2,-0.6,-0.35,-0.7,-0.5,-0.4,-0.8,-0.65,-1.05,-1.4,-1.1,-0.85],
    [1.0,1.55,1.2,1.65,1.3,1.5,0.95,1.2,0.5,1.1,0.85,0.45,0.3,0.75,0.2,0.55,0.1,0.45,-0.1,0.35,0.25,0.05,-0.15,0.2,-0.3,0.1,-0.25,-0.5,0.05,-0.35,-0.55,-0.2,-0.4,-0.7,-0.5,-0.3,-0.85,-0.55,-0.8,-1.05,-0.6,-0.9,-1.0,-0.8,-1.1],
    [1.05,0.9,0.8,1.0,0.7,0.6,0.55,0.8,0.9,0.7,0.45,0.65,0.4,0.3,0.55,0.25,0.35,0.15,0.3,0.0,0.2,-0.1,0.1,-0.15,-0.05,-0.3,-0.15,-0.3,-0.45,-0.3,-0.5,-0.35,-0.6,-0.5,-0.7,-0.55,-0.8,-0.75,-0.95,-0.85,-1.0,-0.9,-1.05,-1.2,-1.15],
    [1.0,1.45,1.7,1.6,1.3,1.05,1.2,0.9,1.1,0.95,0.7,1.0,0.85,0.6,0.75,0.2,-0.3,-0.55,-0.5,0.1,0.2,-0.15,0.05,0.3,0.15,-0.05,-0.1,-0.3,-0.2,0.0,0.45,0.6,0.15,0.5,-0.3,-0.6,-0.5,-0.8,-0.75,-1.0,-0.9,-1.0,-1.4,-1.35,-1.35],
]

anom_row11 = [
    [1.9,1.9,1.3,0.95,1.2,2.1,1.5,0.45,0.65,0.2,1.1,0.35,0.05,-0.45,-0.1,0.2,0.75,0.55,0.35,-0.3,0.45,0.45,0.2,-0.1,-0.15,0.0,-0.3,-1.05,-1.1,-0.7,-0.8,-0.5,-0.55,-0.9,-1.3,-1.0,-0.8,-0.6,-0.7,-0.9,-0.8,-0.65,-0.55,-0.55,-0.05],
    [0.2,0.0,0.8,0.95,0.7,1.55,1.3,1.1,1.55,1.5,2.0,1.2,0.2,0.1,0.55,0.45,0.75,0.75,0.6,0.2,-0.05,0.3,-0.35,-0.3,0.15,-0.4,-0.3,-0.55,-0.75,-0.6,-0.4,-0.3,-0.3,-0.55,-1.1,-0.6,-0.9,-1.05,-1.25,-1.2,-1.4,-0.8,-1.0,-1.2,-0.85],
    [0.25,0.2,0.35,0.9,-0.3,0.3,0.7,0.55,1.0,1.05,1.05,1.65,1.5,1.35,1.85,0.8,0.6,0.55,0.75,1.1,0.8,0.75,0.65,0.45,0.6,0.05,-0.35,-0.9,-0.8,-0.75,-0.5,-0.45,-0.75,-0.8,-0.75,-1.15,-1.2,-1.75,-1.4,-1.45,-0.95,-0.65,-1.6,-1.6,-1.55],
    [0.05,1.3,0.8,0.75,0.95,0.8,0.35,1.45,0.75,0.1,0.3,0.55,0.45,1.55,0.65,0.75,1.1,0.55,0.8,0.1,0.3,0.55,0.45,0.05,0.5,0.95,0.5,0.3,-0.3,-0.55,-0.75,-0.6,-0.45,-0.85,-1.5,-0.8,-0.4,-0.55,-0.5,-0.95,-1.2,-1.85,-1.85,-1.9,-2.0],
    [0.35,0.3,0.8,0.8,0.8,1.4,0.8,1.75,1.5,1.3,1.25,1.05,0.75,0.6,1.0,0.8,0.55,0.5,0.2,0.15,0.8,1.15,0.65,0.25,0.25,0.0,0.1,-0.3,-0.3,-0.5,-0.45,-1.0,-1.55,-1.3,-2.3,-1.9,-0.85,-0.8,-0.7,-0.6,-0.75,-0.6,-0.7,-0.65,-1.2],
    [0.55,1.1,0.8,0.45,1.1,1.6,0.5,0.35,0.5,-0.05,0.15,0.15,0.35,0.3,1.25,1.1,0.7,0.95,1.0,0.95,0.6,0.4,0.95,0.8,0.55,0.5,0.95,1.05,1.05,0.75,0.3,0.15,0.55,-0.05,0.2,0.15,-2.0,-2.1,-2.4,-2.0,-1.9,-1.75,-1.8,-1.95,-1.85],
    [0.95,1.5,1.25,1.5,1.55,1.35,1.15,0.45,0.6,0.75,0.75,1.95,1.75,1.35,1.05,0.75,0.5,0.8,0.25,-0.3,-0.8,-1.0,-1.05,-1.2,-1.5,-1.4,-1.55,-0.9,-0.45,-0.1,-0.1,0.45,-0.35,-0.6,-0.85,-1.45,-1.4,-1.3,-1.35,-1.15,-1.2,-0.75,-0.9,-0.95,-0.95],
    [2.2,2.1,2.5,2.2,1.95,1.55,1.55,1.2,1.35,1.25,0.95,1.25,1.05,0.75,0.05,0.5,0.25,0.3,0.25,0.4,0.15,-0.2,-0.15,-0.5,-1.1,-0.9,-1.35,-0.75,-0.5,-0.45,-0.65,-1.15,-1.35,-1.75,-1.75,-1.6,-2.05,-2.25,-1.85,-1.25,-0.5,-0.75,-0.1,-0.3,-0.6],
    [2.55,2.25,2.3,2.4,2.35,1.8,1.2,1.2,1.55,1.5,1.55,1.25,1.45,1.45,1.05,-0.3,-0.25,0.0,-0.6,-1.5,-1.6,-0.75,-0.35,-1.1,0.0,0.1,-0.5,-1.55,-1.5,-1.45,-1.15,-0.75,-0.95,-1.3,-1.5,-1.25,-1.2,-1.1,-1.15,-0.95,-0.9,-0.9,-0.85,-0.7,-0.5],
]

anom_rows = [anom_row01, anom_row02, anom_row03, anom_row04, anom_row05, anom_row06,
             anom_row07, anom_row08, anom_row09, anom_row10, anom_row11]

for ri, row in enumerate(anom_rows):
    for ci, s in enumerate(row):
        assert len(s) == len(years), (ri, ci, len(s))

fig, axes = plt.subplots(11, 9, figsize=(20.67, 20.22), dpi=100)
fig.subplots_adjust(left=0.0135, right=0.9995, bottom=0.0094, top=0.9995,
                    wspace=0.1, hspace=0.235)

yrs = np.array(years, dtype=float)
for k, ax in enumerate(axes.flat):
    r, c = divmod(k, 9)
    vals = np.array(anom_rows[r][c])
    sns.lineplot(x=yrs, y=vals, ax=ax, color="black", lw=1.3, errorbar=None)
    fit = trend[k] / 10.0 * (yrs - yrs.mean())
    sns.lineplot(x=yrs, y=fit, ax=ax, color="red" if significant[k] else "gray",
                 lw=2, errorbar=None)
    ax.set_ylim(-3.03, 3.03)
    if k == len(models) - 1:
        ax.set_xlim(1970, 2024)
    else:
        ax.set_xlim(1979, 2023)
    ax.xaxis.set_major_locator(MultipleLocator(10))
    ax.xaxis.set_minor_locator(MultipleLocator(1))
    ax.set_yticks([-2, 0, 2])
    ax.tick_params(labelsize=8)
    ax.set_xlabel("")
    ax.set_ylabel("")
    if c != 0:
        ax.tick_params(labelleft=False)
    if r != 10:
        ax.tick_params(labelbottom=False)
    ax.text(0.0, 0.9, models[k], transform=ax.transAxes, fontsize=11, ha="left")
    if k == 0:
        t1 = f"Clim={clim[k]:.2f} $Mkm^2$"
        t2 = f"Trend={trend[k]:.2f} $Mkm^2$/dec"
    else:
        t1 = f"{clim[k]:.2f} $Mkm^2$"
        t2 = f"{trend[k]:.2f} $Mkm^2$/dec"
    ax.text(1980, -1.8, t1, fontsize=11.5)
    ax.text(1980, -2.8, t2, fontsize=11.5)

fig.savefig("out.png", dpi=100)
